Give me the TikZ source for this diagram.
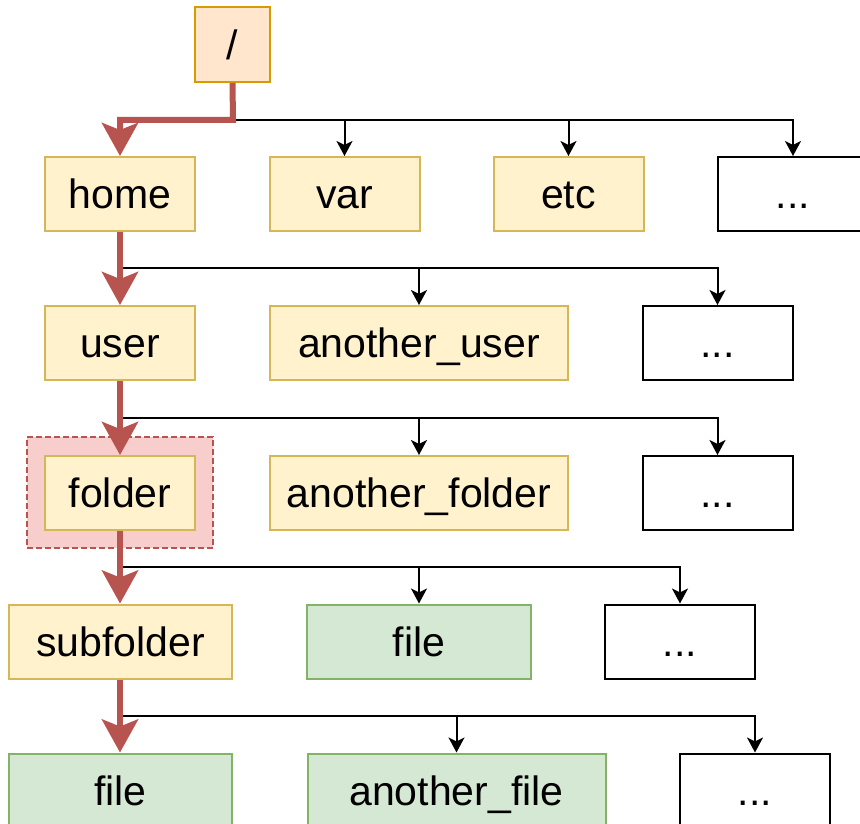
\documentclass[tikz,border=0pt]{standalone}
\usepackage{fontspec}
\setmainfont{Liberation Sans}
\usetikzlibrary{arrows.meta}
\definecolor{orfill}{HTML}{FFE6CC}
\definecolor{ordraw}{HTML}{D79B00}
\definecolor{yefill}{HTML}{FFF2CC}
\definecolor{yedraw}{HTML}{D6B656}
\definecolor{grfill}{HTML}{D5E8D4}
\definecolor{grdraw}{HTML}{82B366}
\definecolor{rdfill}{HTML}{F8CECC}
\definecolor{rddraw}{HTML}{B85450}
\tikzset{
  box/.style={rectangle, line width=2pt, minimum height=74pt, inner sep=0pt,
    text height=29.5pt, text depth=0pt, font=\fontsize{41}{45}\selectfont},
  rootbox/.style={box, fill=orfill, draw=ordraw, minimum width=75pt, minimum height=75pt},
  dirbox/.style={box, fill=yefill, draw=yedraw},
  filebox/.style={box, fill=grfill, draw=grdraw},
  morebox/.style={box, fill=white, draw=black},
  redpath/.style={draw=rddraw, line width=6pt, -{Stealth[length=33pt, width=36pt, inset=7pt]}},
  blackpath/.style={draw=black, line width=2pt, -{Stealth[length=15pt, width=16pt, inset=4pt]}},
  blackline/.style={draw=black, line width=2pt},
}
\begin{document}
\begin{tikzpicture}[x=1pt, y=-1pt]
\useasboundingbox (0,0) rectangle (860,824);
\clip (0,0) rectangle (860,824);
% highlight
\node[rectangle, fill=rdfill, draw=rddraw, dash pattern=on 6pt off 3pt, line width=1.5pt, minimum width=186pt, minimum height=111pt, inner sep=0pt] (hl) at (120,492.5) {};
% nodes
\node[rootbox, minimum width=75pt] (root) at (232.5,44.5) {/};
\node[dirbox, minimum width=150pt] (home) at (120,194) {home};
\node[dirbox, minimum width=150pt] (var) at (344.5,194) {var};
\node[dirbox, minimum width=150pt] (etc) at (568.5,194) {etc};
\node[morebox, minimum width=150pt] (m1) at (793,194) {...};
\node[dirbox, minimum width=150pt] (user) at (120,343) {user};
\node[dirbox, minimum width=298pt] (auser) at (419,343) {another\_user};
\node[morebox, minimum width=150pt] (m2) at (717.5,343) {...};
\node[dirbox, minimum width=150pt] (folder) at (120,493) {folder};
\node[dirbox, minimum width=298pt] (afolder) at (419,493) {another\_folder};
\node[morebox, minimum width=150pt] (m3) at (717.5,493) {...};
\node[dirbox, minimum width=223pt] (sub) at (120.5,641.5) {subfolder};
\node[filebox, minimum width=224pt] (file1) at (419,641.5) {file};
\node[morebox, minimum width=150pt] (m4) at (680,641.5) {...};
\node[filebox, minimum width=223pt] (file2) at (120.5,790.5) {file};
\node[filebox, minimum width=298pt] (afile) at (456.5,790.5) {another\_file};
\node[morebox, minimum width=150pt] (m5) at (755,790.5) {...};
% junction coordinates
\coordinate (j0) at (233,120);
\coordinate (j1) at (120,268);
\coordinate (j2) at (120,418);
\coordinate (j3) at (120,567);
\coordinate (j4) at (120,716);
% black connectors
\draw[blackline] (j0) -- (793,120);
\draw[blackpath] (j0) -| (var.north);
\draw[blackpath] (j0) -| (etc.north);
\draw[blackpath] (j0) -| (m1.north);
\draw[blackpath] (j1) -| (auser.north);
\draw[blackpath] (j1) -| (m2.north);
\draw[blackpath] (j2) -| (auser.north |- afolder.north);
\draw[blackpath] (j2) -| (m3.north);
\draw[blackpath] (j3) -| (file1.north);
\draw[blackpath] (j3) -| (m4.north);
\draw[blackpath] (j4) -| (afile.north);
\draw[blackpath] (j4) -| (m5.north);
% red path
\draw[redpath] (root.south) -- (j0) -| (home.north);
\draw[redpath] (home.south) -- (user.north);
\draw[redpath] (user.south) -- (folder.north);
\draw[redpath] (folder.south) -- (sub.north -| folder.south);
\draw[redpath] (sub.south -| folder.south) -- (file2.north -| folder.south);
\end{tikzpicture}
\end{document}
